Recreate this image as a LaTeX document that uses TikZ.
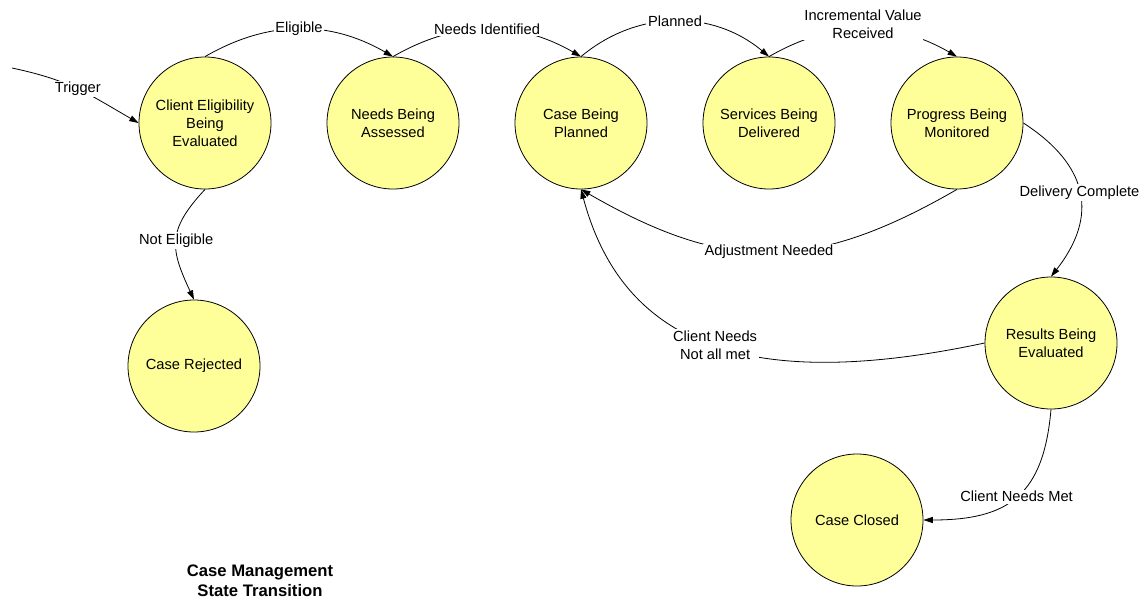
\documentclass[tikz,border=0pt]{standalone}
\usepackage{fontspec}
\setmainfont{Liberation Sans}
\usepackage{tikz}
\usetikzlibrary{positioning}
\usetikzlibrary{arrows.meta}
\definecolor{statefill}{HTML}{FFFF99}

\begin{document}
\begin{tikzpicture}[line width=0.6pt,
  state/.style={circle,draw,fill=statefill,minimum size=99pt,inner sep=0pt,align=center,font=\fontsize{11pt}{13.5pt}\selectfont},
  lbl/.style={fill=white,inner sep=1.2pt,align=center,font=\fontsize{11pt}{13.5pt}\selectfont}]

		  \useasboundingbox (0,0) rectangle (858pt,-450pt);

		  % obere Reihe
		  \node[state] (CE) at (153.75pt,-92.25pt) {Client Eligibility\\Being\\Evaluated};
		  \node[state] (NA) [right=141pt of CE.center,anchor=center] {Needs Being\\Assessed};
		  \node[state] (CP) [right=141pt of NA.center,anchor=center] {Case Being\\Planned};
		  \node[state] (SD) [right=141pt of CP.center,anchor=center] {Services Being\\Delivered};
		  \node[state] (PM) [right=141pt of SD.center,anchor=center] {Progress Being\\Monitored};

		  % untere Zustaende
		  \node[state] (RE) [below right=165pt and 70.5pt of PM.center,anchor=center] {Results Being\\Evaluated};
		  \node[state] (CC) [below left=132.75pt and 145.5pt of RE.center,anchor=center] {Case Closed};
		  \node[state] (CR) [below left=182.25pt and 8.25pt of CE.center,anchor=center] {Case Rejected};

		  \coordinate (trig) at (9pt,-51pt);

		  \node[align=center,font=\fontsize{12.5pt}{15pt}\selectfont\bfseries] (title)
		    [below right=161.25pt and 49.5pt of CR.center,anchor=center] {Case Management\\State Transition};

		  \path[->,>={Triangle[length=7pt,width=4.5pt]}]
			(trig) edge[out=-12,in=150,looseness=1.1] node[lbl] {Trigger} (CE.west)
			(CE.north) edge[bend left=30] node[lbl] {Eligible} (NA.north)
			(CE.south) edge[out=-133,in=115,looseness=1.3] node[lbl] {Not Eligible} (CR.north)
			(NA.north) edge[bend left=30] node[lbl] {Needs Identified} (CP.north)
			(CP.north) edge[bend left=40] node[lbl] {Planned} (SD.north)
			(SD.north) edge[bend left=30] node[lbl,yshift=4pt] {Incremental Value\\Received} (PM.north)
			(PM.east)  edge[out=-33,in=52,looseness=1.27] node[lbl] {Delivery Complete} (RE.north)
			(PM.south) edge[out=210,in=-30,looseness=1.14] node[lbl] {Adjustment Needed} (CP.south)
			(RE.west)  edge[out=192,in=-75,out distance=172pt,in distance=127pt] node[lbl] {Client Needs\\Not all met} (CP.south)
			(RE.south) edge[out=-95,in=0,looseness=1.3] node[lbl] {Client Needs Met} (CC.east);

		\end{tikzpicture}
\end{document}
